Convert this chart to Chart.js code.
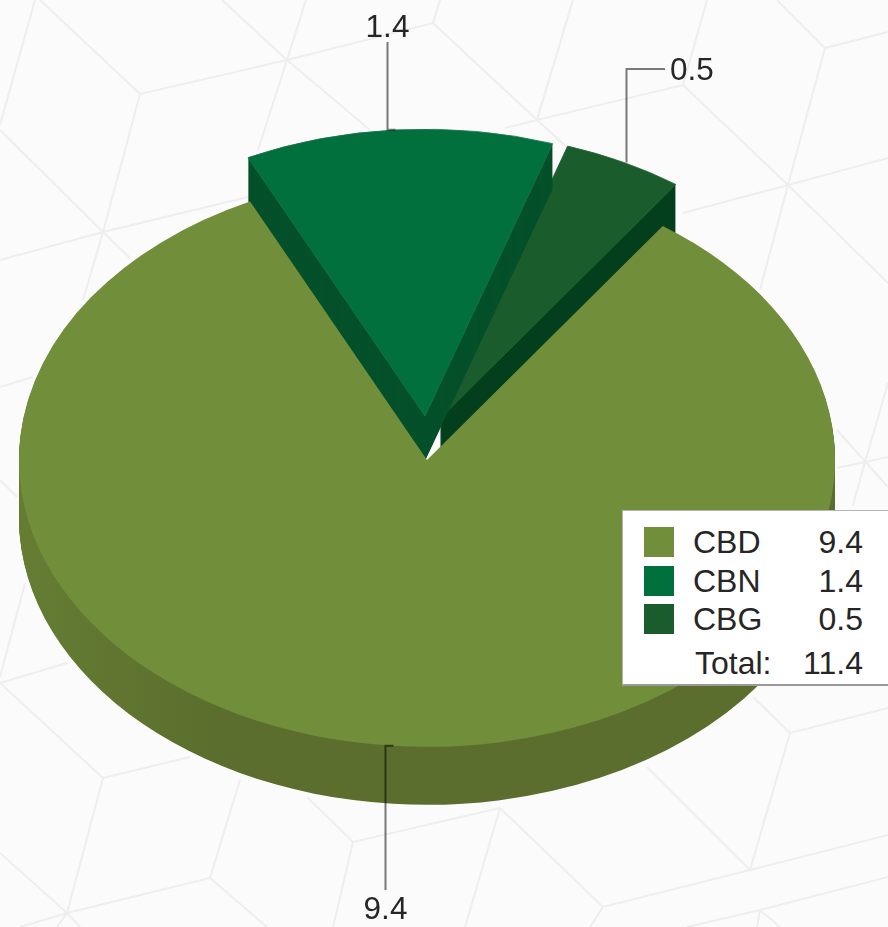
<!DOCTYPE html>
<html>
<head>
<meta charset="utf-8">
<title>Cannabinoids</title>
<script src="https://cdn.jsdelivr.net/npm/chart.js@4"></script>
<style>
  html, body { margin: 0; padding: 0; background: #fbfbfb; overflow: hidden; }
  #wrap { position: relative; width: 888px; height: 927px; font-family: "Liberation Sans", Arial, sans-serif; color: #262626; }
  #bg, #my-chart { position: absolute; left: 0; top: 0; }
  #legend { position: absolute; left: 622px; top: 510px; width: 266px; height: 176px; box-sizing: border-box; background: #fff; border: 1px solid #b5b5b5; border-right: 0; border-bottom: 2px solid #9a9a9a; font-size: 32px; }
  #legend div { position: absolute; line-height: 34px; white-space: nowrap; }
  #legend .swatch { left: 21px; width: 30px; height: 30px; }
  #legend .name { left: 70px; }
  #legend .value { right: 25px; }
</style>
</head>
<body>
<div id="wrap">
  <!-- faint cube pattern behind the chart -->
  <svg id="bg" width="888" height="927" fill="none" stroke="#eeeeee" stroke-width="2">
    <path d="M35 0L0 125M40 0L140 94L287 60L433 23L537 120L683 85L788 185L888 283M140 94L103 232L0 130M103 232L0 260M103 232L248 197M103 232L83 300M103 232L130 258M287 60L258 150M287 60L222 0M287 60L306 0M287 60L370 130M433 23L440 0M537 120L573 0M537 120L570 150M537 120L505 128M683 85L707 0M788 185L683 213M788 185L825 48L777 0M825 48L888 32M788 185L888 158M788 185L760 290"/>
    <path d="M837 430L888 487M865 462L888 383M837 468L888 457M865 462L853 505"/>
    <path d="M753 697L790 733L888 708M790 733L750 870L647 767M750 870L888 835M750 870L603 907L500 808L465 927M500 808L353 842L307 797M353 842L333 927M603 907L590 927M760 910L888 877M760 910L687 927M760 910L757 927M760 910L780 927"/>
    <path d="M0 683L67 663M0 683L103 778L190 757M103 778L67 913L0 853M67 913L210 878L240 780M210 878L267 927M67 913L57 927M67 913L20 927M67 913L80 927M25 583L0 677M0 480L17 497M0 387L33 377"/>
  </svg>
  <canvas id="my-chart" width="888" height="927"></canvas>
  <div id="legend"></div>
</div>
<script>
const categories = ["CBD", "CBN", "CBG"];
// labels are rounded, the slices and the 11.4 total need one more digit
const values = [9.46, 1.39, 0.54];
const valueLabels = ["9.4", "1.4", "0.5"];
const totalLabel = "11.4";
const topColors = ["#718e3b", "#02703c", "#1a5c2c"];
const edgeColors = ["#718e3b", "#15754a", "#27663a"];
const sideColors = ["#5b6e2d", "#04502a", "#033f1c"];

// chart.js has no 3d pie, so squash the flat arcs and stack them to get the rim
const pie3d = {
  id: "pie3d",
  beforeDatasetsDraw(chart, args, opts) {
    const ctx = chart.ctx;
    const arcs = chart.getDatasetMeta(0).data;

    const place = (el, i, depth) => {
      ctx.translate(0, depth);
      ctx.translate(el.x, el.y);
      ctx.scale(1, opts.squash);
      ctx.translate(-el.x, -el.y);
      ctx.translate(opts.explode[i][0], opts.explode[i][1]);
    };

    // big rim is a little lighter on its left end
    const rimFill = ctx.createLinearGradient(18, 0, 220, 0);
    rimFill.addColorStop(0, opts.rimLight);
    rimFill.addColorStop(1, sideColors[0]);

    // back slices first, the big one goes on top of their rims
    opts.order.forEach(i => {
      const el = arcs[i];
      const own = el.options;

      el.options = Object.assign({}, own, { backgroundColor: i === 0 ? rimFill : sideColors[i], borderWidth: 0 });
      for (let d = opts.depth[i]; d > 0; d--) {
        ctx.save();
        place(el, i, d);
        el.draw(ctx);
        ctx.restore();
      }

      el.options = own;
      ctx.save();
      place(el, i, 0);
      el.draw(ctx);
      ctx.restore();
    });
    return false;
  },

  // leader lines and value labels, anchored on the rim of each slice
  afterDraw(chart, args, opts) {
    const ctx = chart.ctx;
    const arcs = chart.getDatasetMeta(0).data;

    arcs.forEach((el, i) => {
      const mid = (el.startAngle + el.endAngle) / 2;
      const leader = opts.leaders[i];
      const x = Math.round(el.x + opts.explode[i][0] + Math.cos(mid) * el.outerRadius + leader.nudge) + 0.5;
      const y = el.y + (opts.explode[i][1] + Math.sin(mid) * el.outerRadius) * opts.squash;

      ctx.save();
      ctx.strokeStyle = "rgba(0,0,0,0.52)";
      ctx.lineWidth = 2;
      ctx.beginPath();
      if (leader.tick) {
        ctx.moveTo(x + leader.tick, y);
        ctx.lineTo(x, y);
      } else {
        ctx.moveTo(x, y);
      }
      ctx.lineTo(x, leader.toY);
      if (leader.toX) ctx.lineTo(leader.toX, leader.toY);
      ctx.stroke();

      ctx.fillStyle = "#262626";
      ctx.font = '31.5px "Liberation Sans", Arial, sans-serif';
      ctx.textBaseline = "middle";
      ctx.textAlign = leader.toX ? "left" : "center";
      ctx.fillText(valueLabels[i], leader.toX ? leader.toX + 5 : x, leader.labelY);
      ctx.restore();
    });
  }
};

const myChart = new Chart(document.getElementById("my-chart").getContext("2d"), {
  type: "pie",
  plugins: [pie3d],
  data: {
    labels: categories,
    datasets: [{
      data: values,
      backgroundColor: topColors,
      borderColor: edgeColors,
      borderWidth: [0, 1, 1],
      radius: 408,
      rotation: 35.3
    }]
  },
  options: {
    responsive: false,
    animation: false,
    events: [],
    layout: { padding: { left: 0, top: 0, right: 34, bottom: 7 } },
    plugins: {
      legend: { display: false },
      tooltip: { enabled: false },
      pie3d: {
        squash: 0.703,
        depth: [58, 45, 50],
        rimLight: "#647d33",
        explode: [[0, 0], [-2, -62.5], [13, -59]],
        order: [2, 1, 0],
        leaders: [
          { nudge: -8, toY: 890, labelY: 910, tick: 8 },
          { nudge: -11, toY: 42, labelY: 28, tick: 8 },
          { nudge: 2, toY: 69, toX: 665, labelY: 71 }
        ]
      }
    }
  }
});

// legend box with the value column and the total
const legend = document.getElementById("legend");
const addCell = (cls, top, text, color, left) => {
  const cell = document.createElement("div");
  cell.className = cls;
  cell.style.top = top + "px";
  if (text) cell.textContent = text;
  if (color) cell.style.background = color;
  if (left) cell.style.left = left + "px";
  legend.appendChild(cell);
};
categories.forEach((name, i) => {
  const rowTop = 16 + i * 38.5;
  addCell("swatch", rowTop, null, topColors[i]);
  addCell("name", rowTop - 2, name);
  addCell("value", rowTop - 2, valueLabels[i]);
});
addCell("name", 135, "Total:", null, 72);
addCell("value", 135, totalLabel);
</script>
</body>
</html>
